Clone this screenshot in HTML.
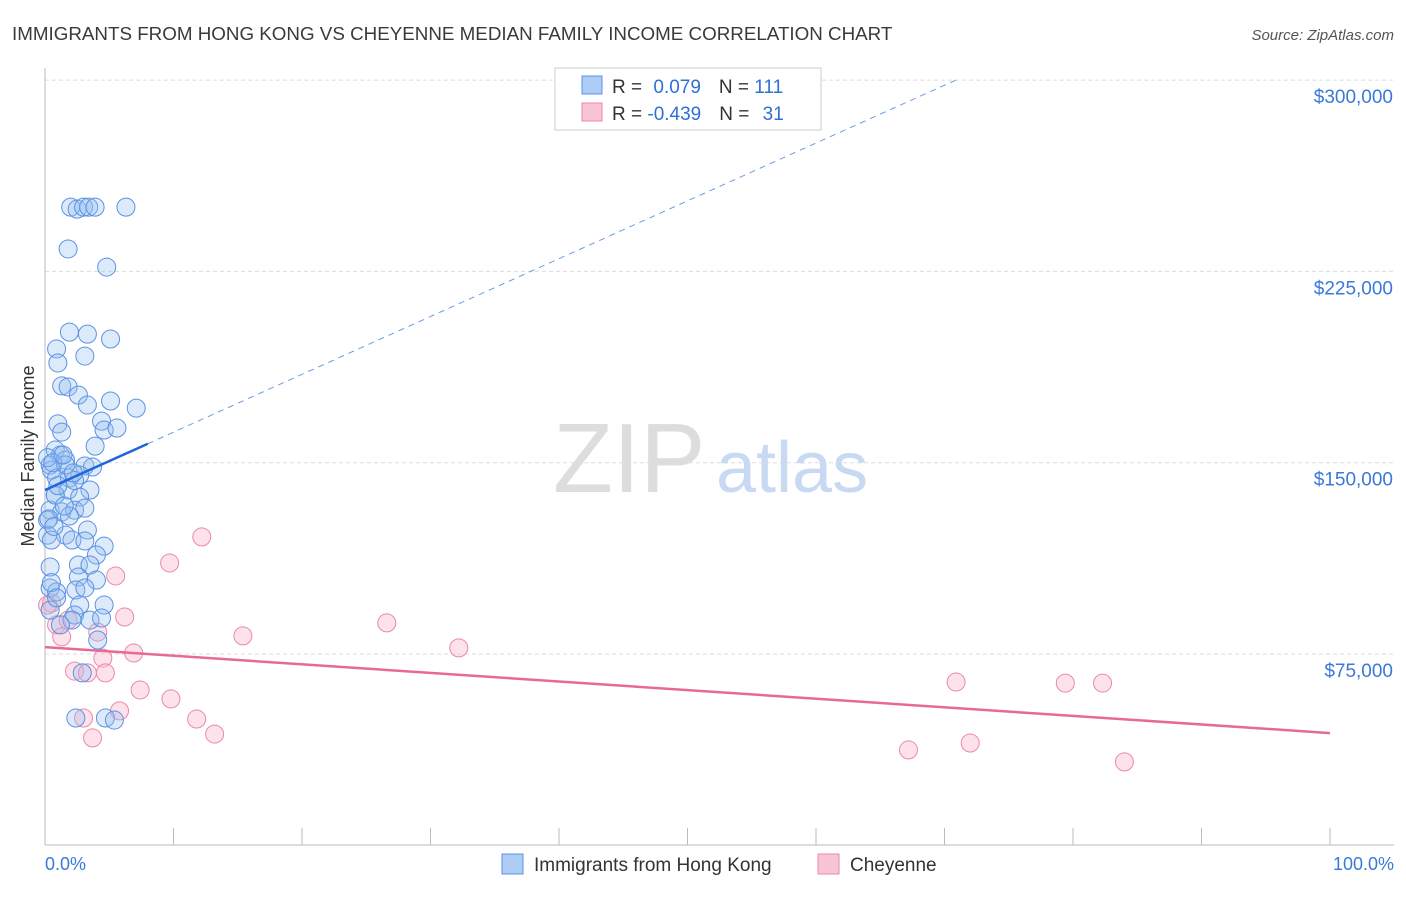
<!DOCTYPE html>
<html><head><meta charset="utf-8"><style>
body{margin:0;background:#fff;font-family:"Liberation Sans",sans-serif;}
svg text{font-family:"Liberation Sans",sans-serif;}
</style></head><body>
<svg width="1406" height="892">
<script>
const blueX=[2.0,2.5,3.0,3.4,3.9,6.3,1.8,4.8,1.9,3.3,5.1,0.9,1.0,3.1,1.3,1.8,2.6,3.3,5.1,7.1,1.0,1.3,4.4,4.6,5.6,3.9,0.8,1.2,1.6,0.4,0.5,0.9,1.9,3.1,3.7,2.7,1.8,3.5,0.8,2.7,0.4,1.3,2.3,3.1,1.9,0.2,3.3,0.2,1.6,2.1,3.1,4.6,4.0,0.4,2.6,3.5,2.6,4.0,0.4,0.9,2.4,3.1,2.7,4.6,2.3,2.1,3.5,4.4,0.4,1.2,4.1,2.9,2.4,4.7,5.4,0.5,0.8,1.6,2.3,0.2,0.6,1.0,1.4,0.3,0.7,1.5,2.2,0.5,0.9];
const blueY=[250.2,249.4,250.2,250.2,250.2,250.2,233.8,226.7,201.2,200.4,198.5,194.6,189.1,191.8,180.1,179.7,176.5,172.6,174.2,171.4,165.2,162.0,166.3,162.8,163.6,156.5,155.0,153.0,151.0,149.1,147.1,144.0,144.0,148.7,148.3,145.2,139.3,139.3,137.3,136.5,131.4,130.7,131.4,132.2,129.1,127.5,123.6,121.6,121.6,119.7,119.3,117.3,113.8,109.1,109.9,109.9,105.2,104.0,100.9,99.3,100.1,100.9,94.2,94.2,90.3,88.3,88.3,89.1,92.2,86.4,80.5,67.6,49.9,49.9,49.1,119.7,137.3,149.1,143.0,152.0,150.0,141.0,153.0,128.0,125.0,133.0,146.0,103.0,97.0];
const pinkX=[0.5,0.9,1.3,1.8,2.3,3.0,3.3,3.7,4.1,4.5,4.7,5.5,5.8,6.2,6.9,7.4,9.7,9.8,11.8,12.2,13.2,15.4,26.6,32.2,67.2,70.9,72.0,79.4,82.3,84.0,0.2];
const pinkY=[95.0,86.4,81.7,88.3,68.3,49.9,67.6,42.1,83.6,73.4,67.6,105.6,52.7,89.5,75.4,60.9,110.7,57.4,49.5,120.9,43.6,82.1,87.2,77.4,37.4,64.0,40.1,63.6,63.6,32.7,94.2];
const yTicks=[75000,150000,225000,300000];
const yTickLabels=["$75,000","$150,000","$225,000","$300,000"];
const blueTrend=[139.3,366];
const pinkTrend=[77.7,44.0];
</script>
<g id="g"></g>
<text x="12" y="40" font-size="18.8" fill="#3a3a3a">IMMIGRANTS FROM HONG KONG VS CHEYENNE MEDIAN FAMILY INCOME CORRELATION CHART</text>
<text x="1394" y="40" font-size="15" fill="#555" text-anchor="end" font-style="italic">Source: ZipAtlas.com</text>
<text transform="translate(34,456) rotate(-90)" font-size="18" fill="#333" text-anchor="middle">Median Family Income</text>
<text x="45" y="870" font-size="18" fill="#3b78d8">0.0%</text>
<text x="1394" y="870" font-size="18" fill="#3b78d8" text-anchor="end">100.0%</text>
<text x="553" y="492" font-size="98" fill="#ddd" font-family="Liberation Serif">ZIP</text>
<text x="716" y="492" font-size="72" fill="#c8daf3">atlas</text>
<g>
<rect x="555" y="68" width="266" height="62" fill="#fff" stroke="#ccc"/>
<rect x="582" y="76" width="20" height="18" fill="#aecdf5" stroke="#5b92e5"/>
<rect x="582" y="103" width="20" height="18" fill="#f9c4d4" stroke="#e98aa8"/>
<text x="612" y="93" font-size="19" fill="#333">R = <tspan fill="#2f6fd6" dx="6">0.079</tspan><tspan dx="18">N = </tspan><tspan fill="#2f6fd6">111</tspan></text>
<text x="612" y="120" font-size="19" fill="#333">R = <tspan fill="#2f6fd6">-0.439</tspan><tspan dx="18">N = </tspan><tspan fill="#2f6fd6" dx="8">31</tspan></text>
</g>
<g>
<rect x="502" y="854" width="21" height="20" fill="#aecdf5" stroke="#5b92e5"/>
<text x="534" y="871" font-size="19" fill="#333">Immigrants from Hong Kong</text>
<rect x="818" y="854" width="21" height="20" fill="#f9c4d4" stroke="#e98aa8"/>
<text x="850" y="871" font-size="19" fill="#333">Cheyenne</text>
</g>
<script>
const NS="http://www.w3.org/2000/svg";
const g=document.getElementById('g');
const X0=45,X1=1330,YB=845;
function xs(p){return X0+(X1-X0)*p/100;}
function ys(v){return 654-(v-75000)*191.3/75000;}
function mk(t,a){const e=document.createElementNS(NS,t);for(const k in a)e.setAttribute(k,a[k]);g.appendChild(e);return e;}
yTicks.forEach((v,i)=>{
 const l=mk('line',{x1:45,x2:1394,y1:ys(v),y2:ys(v),stroke:'#ddd','stroke-dasharray':'4,3'});
 
 
 const t=mk('text',{x:1393,y:ys(v)+23,'font-size':19,fill:'#3b78d8','text-anchor':'end'});
 t.textContent=yTickLabels[i];
 
 
});
const ax=mk('line',{x1:45,x2:45,y1:68,y2:YB,stroke:'#bbb'});


const bx=mk('line',{x1:45,x2:1394,y1:YB,y2:YB,stroke:'#bbb'});


for(let i=0;i<=10;i++){const t=mk('line',{x1:xs(i*10),x2:xs(i*10),y1:828,y2:YB,stroke:'#bbb'});
 
 }
pinkX.forEach((x,i)=>{const c=mk('circle',{cx:xs(x),cy:ys(pinkY[i]*1000),r:9,fill:'rgba(249,180,202,0.38)',stroke:'#e98aa8','stroke-width':1});
 
 });
blueX.forEach((x,i)=>{const c=mk('circle',{cx:xs(x),cy:ys(blueY[i]*1000),r:9,fill:'rgba(150,190,240,0.32)',stroke:'#5b92e5','stroke-width':1});
 
 });
const bv=p=>blueTrend[0]+(blueTrend[1]-blueTrend[0])*p/100;
const xe=(300-blueTrend[0])/(blueTrend[1]-blueTrend[0])*100;
const d=mk('line',{x1:xs(8),y1:ys(bv(8)*1000),x2:xs(xe),y2:ys(300000),stroke:'#6a9be0','stroke-width':1,'stroke-dasharray':'6,5'});


const s=mk('line',{x1:xs(0),y1:ys(bv(0)*1000),x2:xs(8),y2:ys(bv(8)*1000),stroke:'#1f66d6','stroke-width':2.5});


const p=mk('line',{x1:xs(0),y1:ys(pinkTrend[0]*1000),x2:xs(100),y2:ys(pinkTrend[1]*1000),stroke:'#e76a94','stroke-width':2.5});


</script>
</svg>
</body></html>
